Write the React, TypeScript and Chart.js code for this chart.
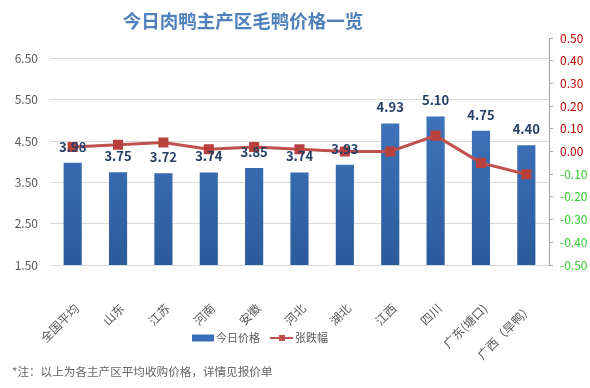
import React, { useEffect, useRef } from 'react';
import { Chart, registerables } from 'chart.js';

Chart.register(...registerables);

const categories = ['全国平均', '山东', '江苏', '河南', '安徽', '河北', '湖北', '江西', '四川', '广东(塘口)', '广西（旱鸭）'];
const prices = [3.98, 3.75, 3.72, 3.74, 3.85, 3.74, 3.93, 4.93, 5.10, 4.75, 4.40];
const changes = [0.02, 0.03, 0.04, 0.01, 0.02, 0.01, 0.0, 0.0, 0.07, -0.05, -0.1];
const priceTicks = [1.5, 2.5, 3.5, 4.5, 5.5, 6.5];
const seriesNames = ['今日价格', '张跌幅'];
const titleText = '今日肉鸭主产区毛鸭价格一览';
const noteText = '*注：以上为各主产区平均收购价格，详情见报价单';

const FONT = '"Noto Sans CJK SC", "Noto Sans", sans-serif';
const BLUE = '#3A70B9';
const RED = '#C0504D';

const decoPlugin = {
  id: 'deco',
  afterDatasetsDraw(chart: any) {
    const ctx = chart.ctx;
    const meta = chart.getDatasetMeta(1);
    ctx.save();
    ctx.font = `bold 13px ${FONT}`;
    ctx.fillStyle = '#243F66';
    ctx.textAlign = 'center';
    ctx.textBaseline = 'middle';
    meta.data.forEach((bar: any, i: number) => {
      ctx.fillText(prices[i].toFixed(2), bar.x, bar.y - 16);
    });
    ctx.restore();
  },
  afterDraw(chart: any) {
    const ctx = chart.ctx;
    ctx.save();
    // title
    ctx.font = `bold 18.5px ${FONT}`;
    ctx.fillStyle = '#4F81BD';
    ctx.textAlign = 'center';
    ctx.textBaseline = 'middle';
    ctx.fillText(titleText, 243, 21);
    // legend
    const ly = 338;
    ctx.fillStyle = BLUE;
    ctx.fillRect(192, ly - 3.5, 22, 7);
    ctx.font = `11px ${FONT}`;
    ctx.fillStyle = '#595959';
    ctx.textAlign = 'left';
    ctx.fillText(seriesNames[0], 216, ly);
    ctx.strokeStyle = RED;
    ctx.lineWidth = 2;
    ctx.beginPath();
    ctx.moveTo(270, ly);
    ctx.lineTo(293, ly);
    ctx.stroke();
    ctx.fillStyle = RED;
    ctx.fillRect(279, ly - 3, 6, 6);
    ctx.fillStyle = '#595959';
    ctx.fillText(seriesNames[1], 295, ly);
    // note
    ctx.font = `11.6px ${FONT}`;
    ctx.fillStyle = '#666666';
    ctx.fillText(noteText, 12, 372);
    ctx.restore();
  },
};

export default function App() {
  const ref = useRef<HTMLCanvasElement>(null);
  useEffect(() => {
    if (!ref.current) return;
    const chart = new Chart(ref.current, {
      type: 'bar',
      data: {
        labels: categories,
        datasets: [
          {
            type: 'line',
            label: seriesNames[1],
            data: changes,
            yAxisID: 'y2',
            borderColor: RED,
            backgroundColor: RED,
            borderWidth: 3,
            pointStyle: 'rect',
            pointRadius: 5,
            pointBackgroundColor: '#B8403D',
            pointBorderColor: '#B8403D',
            tension: 0,
            order: 0,
          } as any,
          {
            type: 'bar',
            label: seriesNames[0],
            data: prices,
            yAxisID: 'y',
            barPercentage: 0.4,
            categoryPercentage: 1,
            backgroundColor: (c: any) => {
              const area = c.chart.chartArea;
              if (!area) return BLUE;
              const g = c.chart.ctx.createLinearGradient(0, area.top, 0, area.bottom);
              g.addColorStop(0, '#4880CC');
              g.addColorStop(1, '#2B5B9C');
              return g;
            },
            order: 1,
          } as any,
        ],
      },
      options: {
        responsive: false,
        animation: false,
        layout: { padding: { top: 38, left: 0, right: 0, bottom: 0 } },
        plugins: {
          legend: { display: false },
          title: { display: false },
          tooltip: { enabled: false },
        },
        scales: {
          x: {
            grid: { display: false },
            border: { display: false },
            ticks: {
              minRotation: 45,
              maxRotation: 45,
              autoSkip: false,
              padding: 28,
              labelOffset: 4,
              color: '#595959',
              font: { family: FONT, size: 12 },
            },
            afterFit: (s: any) => {
              s.height = 123;
            },
          },
          y: {
            position: 'left',
            min: 1.5,
            max: 7.0,
            afterBuildTicks: (s: any) => {
              s.ticks = priceTicks.map((v) => ({ value: v }));
            },
            afterFit: (s: any) => {
              s.width = 50;
            },
            grid: { color: '#D9D9D9', drawTicks: false, lineWidth: 1 },
            border: { display: false },
            ticks: {
              padding: 12,
              color: '#595959',
              font: { family: FONT, size: 12 },
              callback: (v: any) => Number(v).toFixed(2),
            },
          },
          y2: {
            position: 'right',
            min: -0.5,
            max: 0.5,
            afterFit: (s: any) => {
              s.width = 41;
            },
            grid: { drawOnChartArea: false, drawTicks: true, tickLength: 4, color: '#A6A6A6' },
            border: { display: true, color: '#A6A6A6' },
            ticks: {
              stepSize: 0.1,
              padding: 7,
              font: { family: FONT, size: 12 },
              color: (c: any) => (c.tick && c.tick.value < -1e-9 ? '#33CC33' : '#C00000'),
              callback: (v: any) => (Math.abs(Number(v)) < 1e-9 ? '0.00' : Number(v).toFixed(2)),
            },
          },
        },
      },
      plugins: [decoPlugin],
    });
    return () => chart.destroy();
  }, []);
  return (
    <div style={{ position: 'absolute', left: 0, top: 0, width: 590, height: 388, background: '#fff' }}>
      <canvas ref={ref} width={590} height={388} style={{ display: 'block' }} />
    </div>
  );
}
